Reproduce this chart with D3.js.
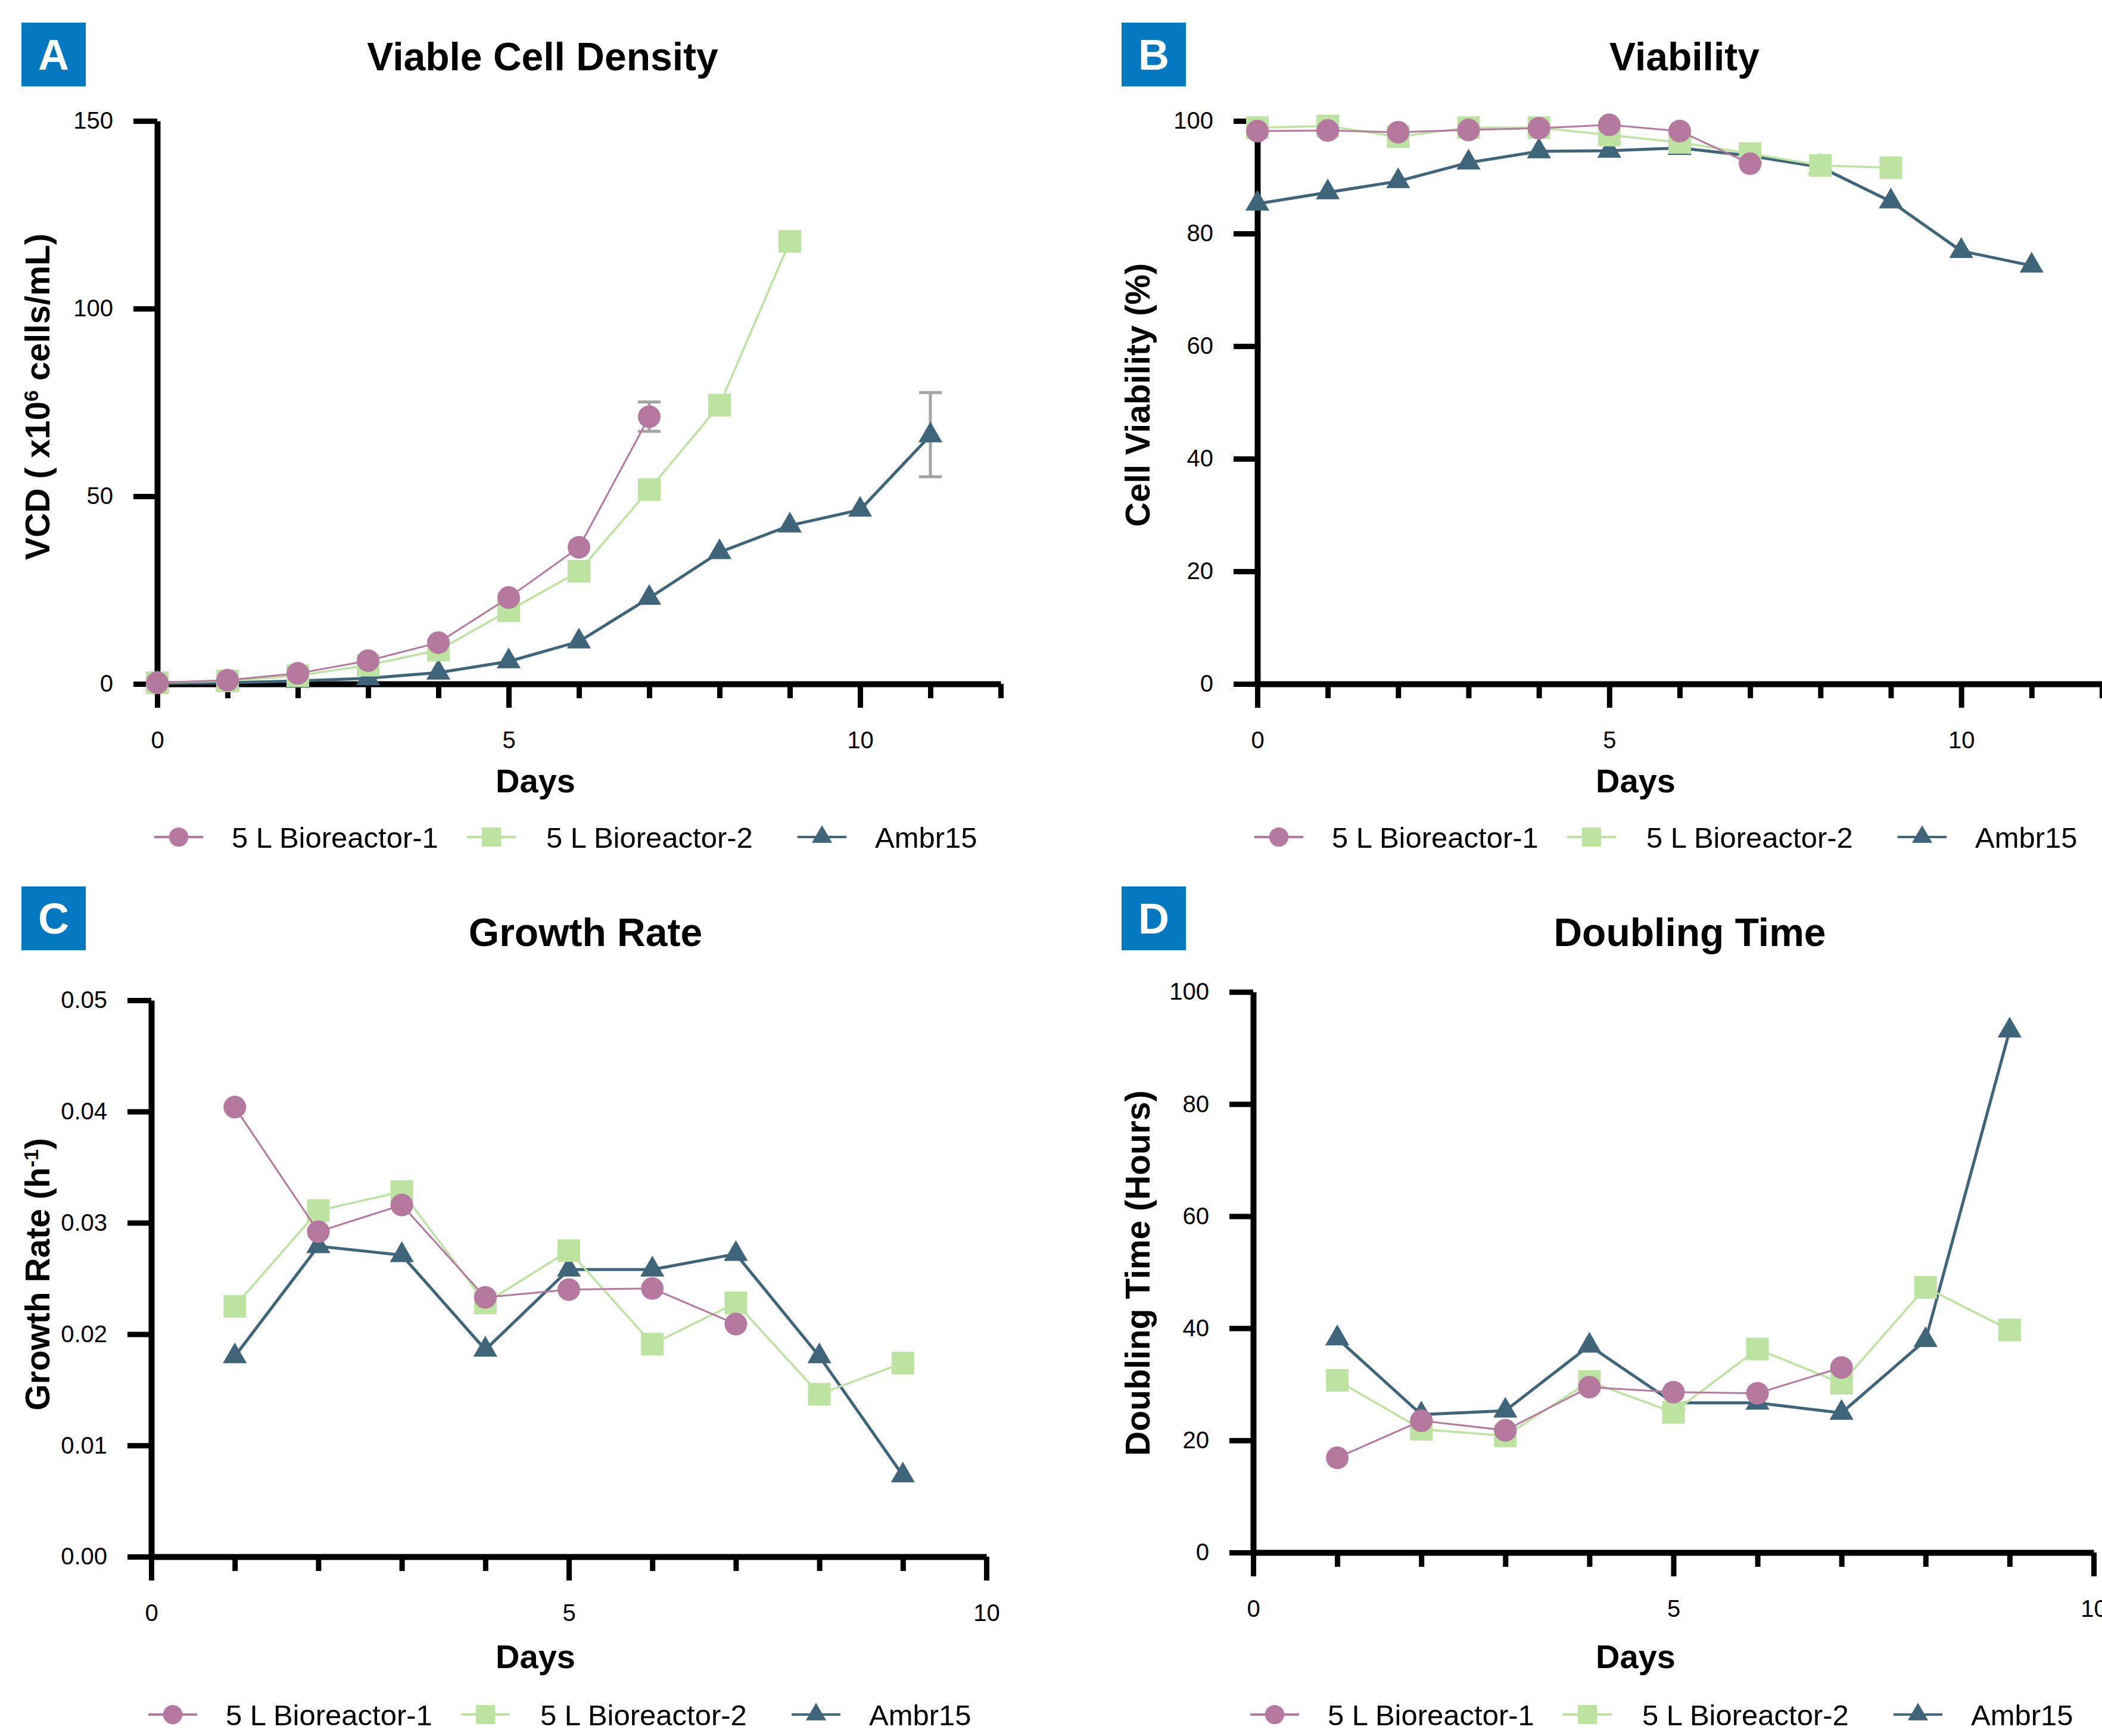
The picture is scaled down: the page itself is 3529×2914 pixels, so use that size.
<!DOCTYPE html>
<html>
<head>
<meta charset="utf-8">
<script src="https://cdn.jsdelivr.net/npm/d3@7"></script>
<style>
  body { margin: 0; background: #fff; }
  svg { display: block; font-family: "Liberation Sans", Arial, sans-serif; }
</style>
</head>
<body>
<svg id="chart" width="3529" height="2914"></svg>
<script>
const seriesNames = ["5 L Bioreactor-1", "5 L Bioreactor-2", "Ambr15"];

// A - viable cell density (x10^6 cells/mL)
const vcdBio1 = [0.3, 1.0, 2.8, 6.2, 11.0, 23.0, 36.4, 71.2];
const vcdBio2 = [0.3, 0.8, 2.2, 5.0, 9.0, 19.5, 30.0, 51.8, 74.3, 117.9];
const vcdAmbr = [0.1, 0.3, 0.8, 1.5, 3.0, 6.0, 11.3, 22.9, 35.1, 42.2, 46.4, 66.2];
const vcdErrors = [
  { series: 0, day: 7, lo: 67.3, hi: 75.1 },
  { series: 2, day: 11, lo: 55.2, hi: 77.6 },
];

// B - viability (%)
const viaBio1 = [98.2, 98.3, 98.0, 98.4, 98.7, 99.3, 98.2, 92.4];
const viaBio2 = [98.8, 99.1, 97.2, 98.8, 98.8, 97.5, 96.2, 94.2, 92.1, 91.7];
const viaAmbr = [85.3, 87.3, 89.3, 92.6, 94.6, 94.7, 95.2, 93.8, 91.8, 85.7, 76.9, 74.3];

// C - growth rate (1/h), from day 1
const grBio1 = [0.0404, 0.0292, 0.0316, 0.0233, 0.0240, 0.0241, 0.0209];
const grBio2 = [0.0225, 0.0311, 0.0328, 0.0228, 0.0275, 0.0191, 0.0228, 0.0146, 0.0174];
const grAmbr = [0.0180, 0.0279, 0.0271, 0.0186, 0.0258, 0.0258, 0.0272, 0.0180, 0.0073];

// D - doubling time (hours), from day 1
const dtBio1 = [16.9, 23.5, 21.8, 29.5, 28.6, 28.4, 33.0];
const dtBio2 = [30.7, 22.0, 20.8, 30.5, 25.0, 36.3, 30.2, 47.3, 39.7];
const dtAmbr = [38.2, 24.6, 25.3, 36.9, 26.7, 26.7, 24.9, 37.9, 93.1];

const yTicksVcd = [0, 50, 100, 150];
const yTicksPct = [0, 20, 40, 60, 80, 100];
const yTicksGr = [0, 0.01, 0.02, 0.03, 0.04, 0.05];
const xMajorTicks = [0, 5, 10];

const colors = ["#b5789f", "#bde3a1", "#3e6579"];
const symbols = [d3.symbolCircle, d3.symbolSquare, d3.symbolTriangle];
const symSizes = [1134, 1444, 700];
const lineWidths = [3, 3.5, 5];

const svg = d3.select("#chart");

// turn a list of values into points, starting at a given day
const toPts = (vals, start) => vals.map((v, i) => ({ day: start + i, v: v }));

function drawPanel(p) {
  const g = svg.append("g").attr("transform", `translate(${p.ox},${p.oy})`);

  const x = d3.scaleLinear().domain([0, p.xMax]).range(p.xRange);
  const y = d3.scaleLinear().domain(p.yDomain).range(p.yRange);

  // panel letter
  g.append("rect")
    .attr("x", 36).attr("y", 38)
    .attr("width", 108).attr("height", 107)
    .attr("fill", "#0479c2");
  g.append("text")
    .attr("x", 90).attr("y", 117)
    .attr("text-anchor", "middle")
    .attr("fill", "#fff")
    .style("font-size", "72px")
    .style("font-weight", "bold")
    .text(p.letter);

  // title
  g.append("text")
    .attr("x", p.titleX).attr("y", p.titleY)
    .attr("text-anchor", "middle")
    .style("font-size", "66px")
    .style("font-weight", "bold")
    .text(p.title);

  // y axis
  const yAxis = g.append("g")
    .attr("transform", `translate(${p.xRange[0]},0)`)
    .call(d3.axisLeft(y).tickValues(p.yTicks).tickFormat(p.yFormat)
      .tickSize(40).tickSizeOuter(0).tickPadding(34));
  yAxis.select(".domain").attr("stroke-width", 10);
  yAxis.selectAll(".tick line").attr("stroke-width", 9);
  yAxis.selectAll(".tick text").style("font-size", "40px").attr("fill", "#000");

  // x axis: minor ticks then major ticks with labels
  const minor = d3.range(0, p.xMax + 1).filter((d) => !xMajorTicks.includes(d));
  const xMinor = g.append("g")
    .attr("transform", `translate(0,${p.yRange[0]})`)
    .call(d3.axisBottom(x).tickValues(minor).tickFormat("").tickSize(24).tickSizeOuter(0));
  xMinor.select(".domain").remove();
  xMinor.selectAll(".tick line").attr("stroke-width", 9);

  const xAxis = g.append("g")
    .attr("transform", `translate(0,${p.yRange[0]})`)
    .call(d3.axisBottom(x).tickValues(xMajorTicks).tickSize(40).tickSizeOuter(0).tickPadding(40));
  xAxis.select(".domain").attr("stroke-width", 10);
  xAxis.selectAll(".tick line").attr("stroke-width", 9);
  xAxis.selectAll(".tick text").style("font-size", "40px").attr("fill", "#000");

  // axis titles
  g.append("text")
    .attr("x", 899).attr("y", p.daysY)
    .attr("text-anchor", "middle")
    .style("font-size", "56px")
    .style("font-weight", "bold")
    .text("Days");

  const yl = g.append("text")
    .attr("transform", `translate(62,${p.yLabelY}) rotate(-90)`)
    .attr("text-anchor", "middle")
    .attr("dy", "0.36em")
    .style("font-size", "57px")
    .style("font-weight", "bold");
  yl.append("tspan").text(p.yLabel[0]);
  if (p.yLabel[1]) {
    yl.append("tspan").attr("baseline-shift", "super").style("font-size", "34px").text(p.yLabel[1]);
    yl.append("tspan").text(p.yLabel[2]);
  }

  // error bars
  (p.errors || []).forEach((e) => {
    const eg = g.append("g").attr("stroke", "#a3a3a3").attr("stroke-width", 5);
    eg.append("line").attr("x1", x(e.day)).attr("x2", x(e.day)).attr("y1", y(e.lo)).attr("y2", y(e.hi));
    [e.lo, e.hi].forEach((v) => {
      eg.append("line").attr("x1", x(e.day) - 19).attr("x2", x(e.day) + 19).attr("y1", y(v)).attr("y2", y(v));
    });
  });

  // series, drawn Ambr15 first so the 5 L markers sit on top
  const line = d3.line().x((d) => x(d.day)).y((d) => y(d.v));
  [2, 1, 0].forEach((si) => {
    const pts = p.series[si];
    g.append("path")
      .datum(pts)
      .attr("d", line)
      .attr("fill", "none")
      .attr("stroke", colors[si])
      .attr("stroke-width", lineWidths[si]);
    g.selectAll(null)
      .data(pts)
      .join("path")
      .attr("d", d3.symbol().type(symbols[si]).size(symSizes[si]))
      .attr("transform", (d) => `translate(${x(d.day)},${y(d.v)})`)
      .attr("fill", colors[si]);
  });

  // legend
  const legendMarkerX = [36, 561, 1116];
  const legendTextX = [125, 653, 1205];
  const lg = g.append("g").attr("transform", `translate(0,${p.legendY})`);
  seriesNames.forEach((name, i) => {
    const cx = p.xRange[0] + legendMarkerX[i];
    lg.append("line")
      .attr("x1", cx - 41).attr("x2", cx + 41)
      .attr("stroke", colors[i]).attr("stroke-width", 4);
    lg.append("path")
      .attr("d", d3.symbol().type(symbols[i]).size(symSizes[i] * 0.72))
      .attr("transform", `translate(${cx},0)`)
      .attr("fill", colors[i]);
    lg.append("text")
      .attr("x", p.xRange[0] + legendTextX[i])
      .attr("dy", "0.36em")
      .style("font-size", "49px")
      .text(name);
  });
}

drawPanel({
  ox: 0, oy: 0, letter: "A", title: "Viable Cell Density", titleX: 911, titleY: 118,
  xMax: 12, xRange: [264, 1680], yDomain: [0, 150], yRange: [1148, 203],
  yTicks: yTicksVcd, yFormat: d3.format("d"),
  yLabel: ["VCD ( x10", "6", " cells/mL)"], yLabelY: 666,
  daysY: 1330, legendY: 1405,
  series: [toPts(vcdBio1, 0), toPts(vcdBio2, 0), toPts(vcdAmbr, 0)],
  errors: vcdErrors.map((e) => ({ day: e.day, lo: e.lo, hi: e.hi })),
});

drawPanel({
  ox: 1847, oy: 0, letter: "B", title: "Viability", titleX: 981, titleY: 118,
  xMax: 12, xRange: [264, 1682], yDomain: [0, 100], yRange: [1148, 203],
  yTicks: yTicksPct, yFormat: d3.format("d"),
  yLabel: ["Cell Viability (%)"], yLabelY: 663,
  daysY: 1330, legendY: 1405,
  series: [toPts(viaBio1, 0), toPts(viaBio2, 0), toPts(viaAmbr, 0)],
});

drawPanel({
  ox: 0, oy: 1450, letter: "C", title: "Growth Rate", titleX: 983, titleY: 138,
  xMax: 10, xRange: [254, 1656], yDomain: [0, 0.05], yRange: [1163, 229],
  yTicks: yTicksGr, yFormat: d3.format(".2f"),
  yLabel: ["Growth Rate (h", "-1", ")"], yLabelY: 689,
  daysY: 1350, legendY: 1428,
  series: [toPts(grBio1, 1), toPts(grBio2, 1), toPts(grAmbr, 1)],
});

drawPanel({
  ox: 1847, oy: 1450, letter: "D", title: "Doubling Time", titleX: 990, titleY: 138,
  xMax: 10, xRange: [257, 1668], yDomain: [0, 100], yRange: [1156, 215],
  yTicks: yTicksPct, yFormat: d3.format("d"),
  yLabel: ["Doubling Time (Hours)"], yLabelY: 687,
  daysY: 1350, legendY: 1428,
  series: [toPts(dtBio1, 1), toPts(dtBio2, 1), toPts(dtAmbr, 1)],
});
</script>
</body>
</html>
